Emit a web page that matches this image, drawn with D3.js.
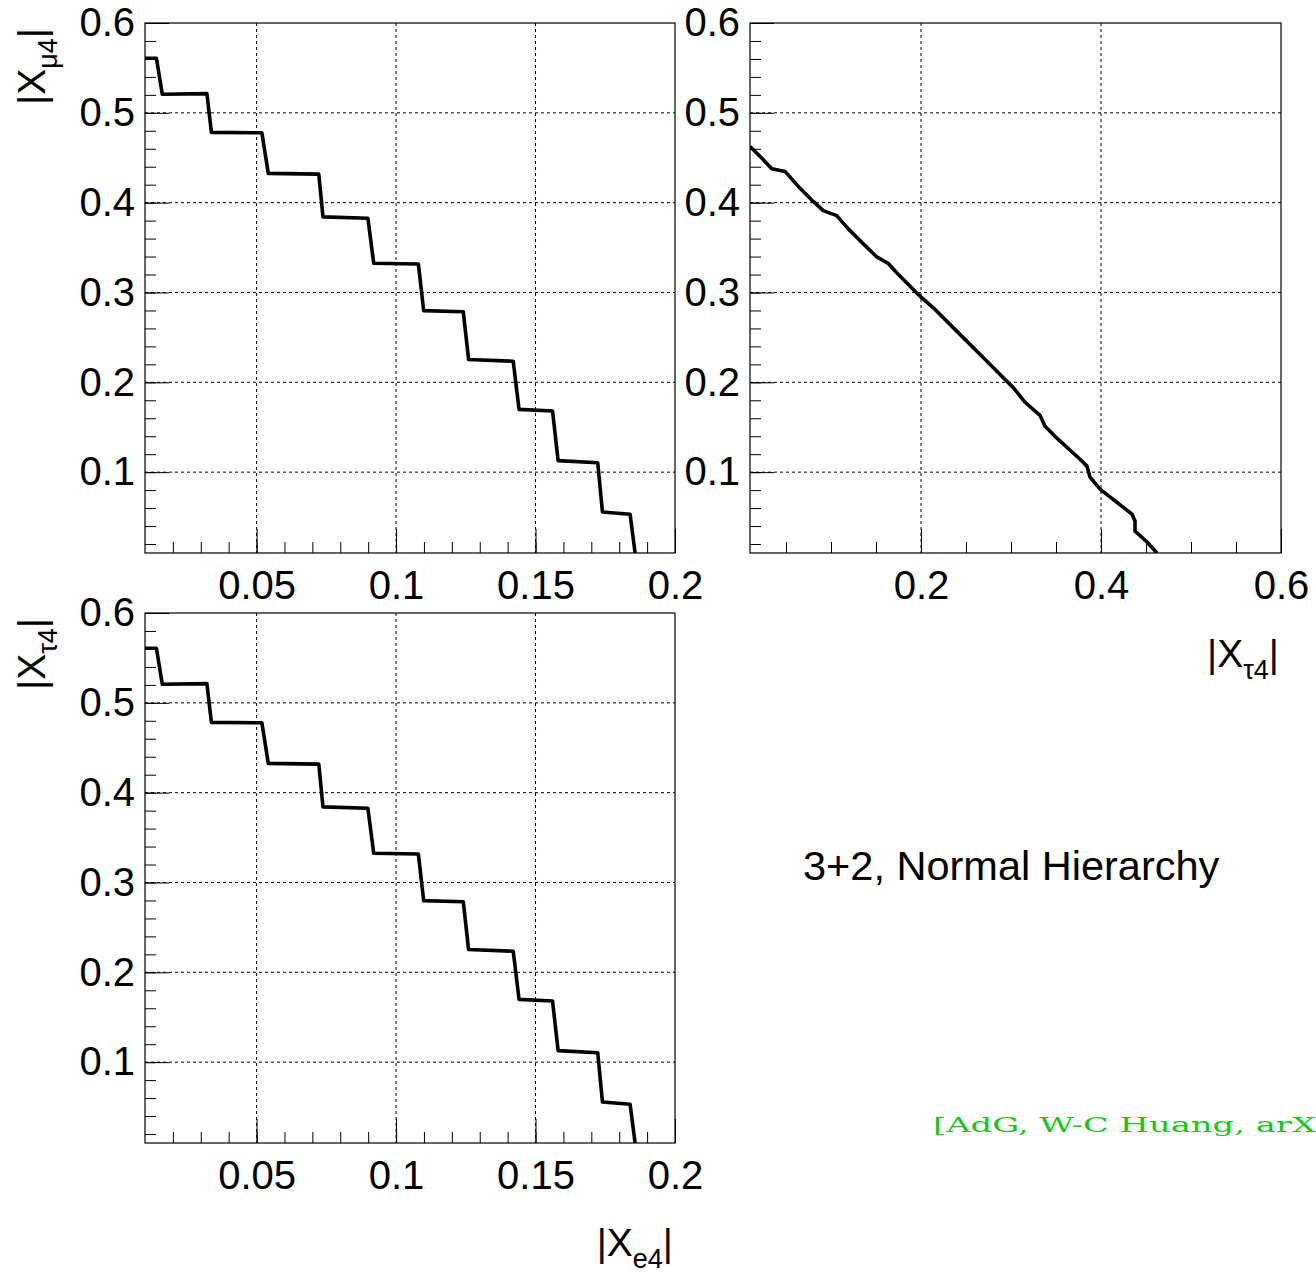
<!DOCTYPE html>
<html>
<head>
<meta charset="utf-8">
<script src="https://cdn.jsdelivr.net/npm/d3@7"></script>
<style>
  body { margin: 0; background: #fff; }
  svg { display: block; font-family: "Liberation Sans", Arial, sans-serif; }
</style>
</head>
<body>
<script>
// Staircase contour, |X_e4| vs |X_mu4| (top left)
var e4ForMu4 = [0.010, 0.0141, 0.0162, 0.0322, 0.0338, 0.0519, 0.0542, 0.0723, 0.0738, 0.0899, 0.0920, 0.1080,
                0.1099, 0.1241, 0.1260, 0.1420, 0.1441, 0.1561, 0.1581, 0.1723, 0.1740, 0.1839, 0.1857];
var mu4ForE4 = [0.5607, 0.5607, 0.5206, 0.5214, 0.4782, 0.4778, 0.4326, 0.4318, 0.3842, 0.3826, 0.3326, 0.3318,
                0.2798, 0.2786, 0.2254, 0.2235, 0.1699, 0.1680, 0.1128, 0.1104, 0.0556, 0.0532, 0.0100];

// Staircase contour, |X_e4| vs |X_tau4| (bottom left)
var e4ForTau4 = [0.010, 0.0141, 0.0162, 0.0322, 0.0338, 0.0519, 0.0542, 0.0723, 0.0738, 0.0899, 0.0920, 0.1080,
                 0.1099, 0.1241, 0.1260, 0.1420, 0.1441, 0.1561, 0.1581, 0.1723, 0.1740, 0.1839, 0.1857];
var tau4ForE4 = [0.5607, 0.5607, 0.5206, 0.5214, 0.4782, 0.4778, 0.4326, 0.4318, 0.3842, 0.3826, 0.3326, 0.3318,
                 0.2798, 0.2786, 0.2254, 0.2235, 0.1699, 0.1680, 0.1128, 0.1104, 0.0556, 0.0532, 0.0100];

// Contour |X_tau4| vs |X_mu4| (top right)
var tau4ForMu4 = [0.010, 0.023, 0.0341, 0.0489, 0.0637, 0.0803, 0.0914, 0.1063, 0.1192, 0.1341, 0.1508, 0.1637,
                  0.173, 0.1989, 0.2156, 0.2397, 0.273, 0.2914, 0.3026, 0.3156, 0.3322, 0.3378, 0.3522, 0.3767,
                  0.3844, 0.3878, 0.3989, 0.4344, 0.4378, 0.4378, 0.4511, 0.4622];
var mu4ForTau4 = [0.4625, 0.4497, 0.4378, 0.4348, 0.4181, 0.4014, 0.3911, 0.3856, 0.3708, 0.3559, 0.3397, 0.3322,
                  0.3219, 0.2959, 0.2811, 0.257, 0.2237, 0.2052, 0.1941, 0.1778, 0.1633, 0.1511, 0.1367, 0.1144,
                  0.1067, 0.0944, 0.0811, 0.0533, 0.0456, 0.0344, 0.0222, 0.0100];

// Tick labels
var smallXTicks = [0.05, 0.1, 0.15, 0.2];
var smallXTickLabels = ["0.05", "0.1", "0.15", "0.2"];
var wideXTicks = [0.2, 0.4, 0.6];
var wideXTickLabels = ["0.2", "0.4", "0.6"];
var yTicks = [0.1, 0.2, 0.3, 0.4, 0.5, 0.6];
var yTickLabels = ["0.1", "0.2", "0.3", "0.4", "0.5", "0.6"];

var width = 1316, height = 1272;
var svg = d3.select("body").append("svg")
    .attr("width", width)
    .attr("height", height);

//Draws one frame with grid, ticks and a curve
function drawPanel(p, i) {
    let g = svg.append("g").attr("transform", "translate(" + p.left + "," + p.top + ")");

    let x = d3.scaleLinear().domain(p.xDomain).range([0, p.w]);
    let y = d3.scaleLinear().domain([0.01, 0.6]).range([p.h, 0]);

    //dotted grid at major ticks
    g.selectAll(".gx").data(p.xTicks.filter(v => v < p.xDomain[1] - 1e-9)).enter()
        .append("line")
        .attr("x1", d => x(d)).attr("x2", d => x(d))
        .attr("y1", 0).attr("y2", p.h)
        .attr("stroke", "#000").attr("stroke-width", 1).attr("stroke-dasharray", "3,3");
    g.selectAll(".gy").data(yTicks.filter(v => v < 0.6 - 1e-9)).enter()
        .append("line")
        .attr("x1", 0).attr("x2", p.w)
        .attr("y1", d => y(d)).attr("y2", d => y(d))
        .attr("stroke", "#000").attr("stroke-width", 1).attr("stroke-dasharray", "3,3");

    //minor ticks
    let minorX = g.append("g").attr("transform", "translate(0," + p.h + ")")
        .call(d3.axisBottom(x).tickValues(p.xMinor).tickSize(-11).tickFormat(""));
    let minorY = g.append("g")
        .call(d3.axisLeft(y).tickValues(d3.range(0.02, 0.6, 0.02)).tickSize(-11).tickFormat(""));

    //major ticks with labels
    let majorX = g.append("g").attr("transform", "translate(0," + p.h + ")")
        .call(d3.axisBottom(x).tickValues(p.xTicks).tickSizeInner(-24).tickSizeOuter(0)
            .tickPadding(18).tickFormat((d, k) => p.xLabels[k]));
    let majorY = g.append("g")
        .call(d3.axisLeft(y).tickValues(yTicks).tickSizeInner(-24).tickSizeOuter(0)
            .tickPadding(10).tickFormat((d, k) => yTickLabels[k]));

    [minorX, minorY, majorX, majorY].forEach(a => {
        a.select(".domain").remove();
        a.selectAll("line").attr("stroke", "#000").attr("stroke-width", 1);
        a.selectAll("text").attr("font-size", 40).attr("fill", "#000")
            .attr("font-family", "'Liberation Sans', Arial, sans-serif");
    });

    //frame
    g.append("rect")
        .attr("width", p.w).attr("height", p.h)
        .attr("fill", "none").attr("stroke", "#000").attr("stroke-width", 1.2);

    //curve, clipped to the frame
    g.append("clipPath").attr("id", "clip" + i)
        .append("rect").attr("width", p.w).attr("height", p.h);

    let line = d3.line().x(d => x(d[0])).y(d => y(d[1]));
    g.append("path")
        .datum(d3.zip(p.xs, p.ys))
        .attr("clip-path", "url(#clip" + i + ")")
        .attr("d", line)
        .attr("fill", "none")
        .attr("stroke", "#000")
        .attr("stroke-width", 3.6)
        .attr("stroke-linejoin", "round");
}

var panels = [
    { left: 145, top: 23, w: 530, h: 530, xDomain: [0.01, 0.2], xTicks: smallXTicks, xLabels: smallXTickLabels,
      xMinor: d3.range(0.02, 0.2, 0.01), xs: e4ForMu4, ys: mu4ForE4 },
    { left: 750, top: 23, w: 531, h: 530, xDomain: [0.01, 0.6], xTicks: wideXTicks, xLabels: wideXTickLabels,
      xMinor: d3.range(0.05, 0.6, 0.05), xs: tau4ForMu4, ys: mu4ForTau4 },
    { left: 145, top: 613, w: 530, h: 530, xDomain: [0.01, 0.2], xTicks: smallXTicks, xLabels: smallXTickLabels,
      xMinor: d3.range(0.02, 0.2, 0.01), xs: e4ForTau4, ys: tau4ForE4 }
];
panels.forEach(drawPanel);

//Axis titles like |X_{mu4}|
function axisTitle(sub, xPos, yPos, rotate) {
    let t = svg.append("text")
        .attr("transform", "translate(" + xPos + "," + yPos + ")" + (rotate ? " rotate(-90)" : ""))
        .attr("text-anchor", "end")
        .attr("font-size", 39)
        .attr("fill", "#000");
    t.append("tspan").text("|X");
    t.append("tspan").attr("font-size", 27).attr("dy", 12).text(sub);
    t.append("tspan").attr("dy", -12).text("|");
}
axisTitle("\u03bc4", 45, 28, true);
axisTitle("\u03c44", 45, 618, true);
axisTitle("\u03c44", 1279, 667, false);
axisTitle("e4", 673, 1256, false);

svg.append("text")
    .attr("x", 803).attr("y", 880)
    .attr("font-size", 41.5)
    .attr("fill", "#000")
    .text("3+2, Normal Hierarchy");

//Green credit, stretched to the width it has in the original
var credit = svg.append("text")
    .attr("font-family", "'DejaVu Serif', 'Liberation Serif', serif")
    .attr("font-size", 21)
    .attr("fill", "#14c814")
    .text("[AdG, W-C Huang, arXiv]");
var shown = credit.node().getSubStringLength(0, 20);
credit.attr("transform", "translate(933,1132) scale(" + (383 / shown) + ",1)");
</script>
</body>
</html>
